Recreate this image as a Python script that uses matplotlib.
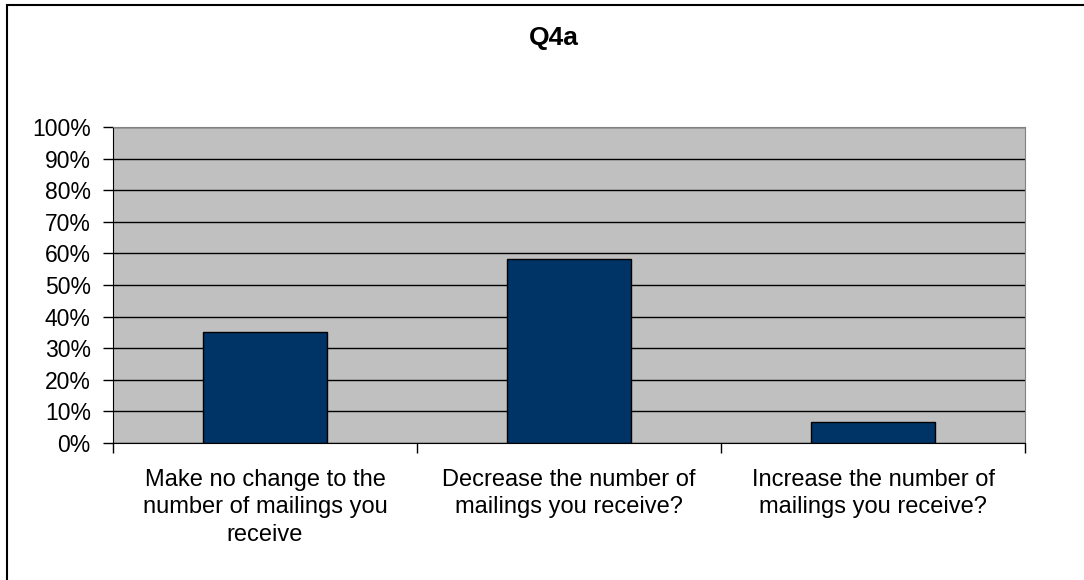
import matplotlib.pyplot as plt
from matplotlib.patches import Rectangle
import numpy as np

plt.rcParams['font.family'] = ['Liberation Sans', 'DejaVu Sans']

title = 'Q4a'
categories = ['Make no change to the\nnumber of mailings you\nreceive',
              'Decrease the number of\nmailings you receive?',
              'Increase the number of\nmailings you receive?']
values = [35.0, 58.3, 6.6]
yticks = list(range(0, 101, 10))

fig = plt.figure(figsize=(10.84, 5.8), dpi=100)
ax = fig.add_axes([113 / 1084, 137 / 580, 912 / 1084, 316 / 580])

x = np.arange(len(categories))
ax.set_facecolor('#c0c0c0')
ax.bar(x, values, width=0.405, color='#003366', edgecolor='black', linewidth=1, zorder=3)

ax.set_xlim(-0.5, len(categories) - 0.5)
ax.set_ylim(0, 100)
ax.set_yticks(yticks)
ax.set_yticklabels([f'{t}%' for t in yticks], fontsize=16.5)
ax.yaxis.grid(True, color='black', linewidth=1, zorder=1)
ax.set_axisbelow(True)

# category ticks sit on the boundaries, labels in the middle
ax.set_xticks(np.arange(len(categories) + 1) - 0.5)
ax.set_xticklabels([])
ax.set_xticks(x, minor=True)
ax.set_xticklabels(categories, minor=True, fontsize=17, linespacing=1.3, va='top')
ax.tick_params(axis='x', which='minor', length=0, pad=19)
ax.tick_params(axis='x', which='major', length=7, width=1, direction='out')
ax.tick_params(axis='y', length=7, width=1, direction='out', pad=9)

ax.spines['left'].set_color('black')
ax.spines['bottom'].set_color('black')
ax.spines['top'].set_color('#808080')
ax.spines['right'].set_color('#808080')

fig.text(554 / 1084, 1 - 38 / 580, title, ha='center', va='center',
         fontsize=19, fontweight='bold')

# chart frame, cut off at the right and bottom like the original
fig.patches.append(Rectangle((7 / 1084, -0.1), 1.2, 1 - 5 / 580 + 0.1,
                             transform=fig.transFigure, fill=False,
                             edgecolor='black', linewidth=1.5))

fig.savefig('out.png', dpi=100)
